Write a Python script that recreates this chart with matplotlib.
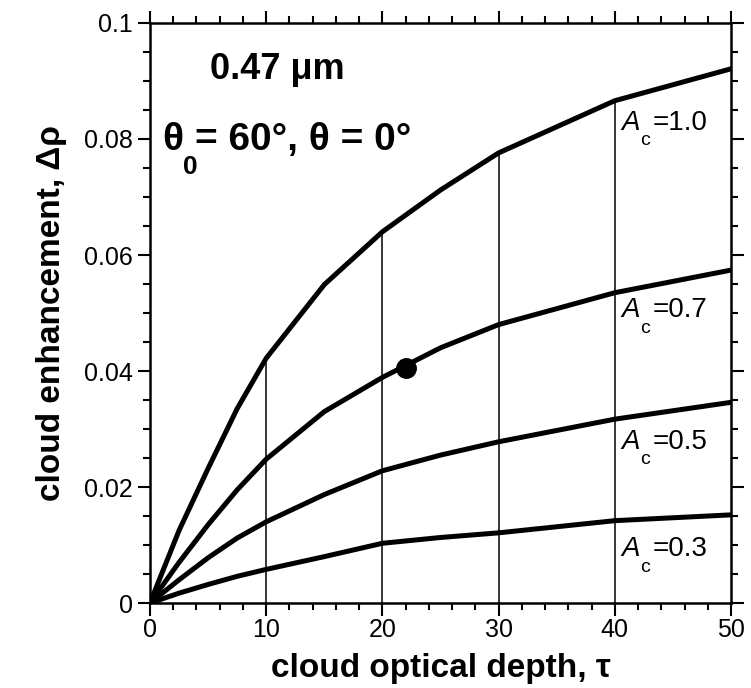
import matplotlib
matplotlib.use("Agg")
import matplotlib.pyplot as plt
import numpy as np

plt.rcParams['font.family'] = ['Liberation Sans', 'DejaVu Sans']

# optical depth sample points
tau = [0, 2.5, 5, 7.5, 10, 15, 20, 25, 30, 40, 50]

# cloud enhancement for each cloud fraction
enh_10 = [0, 0.0125, 0.0232, 0.0335, 0.0422, 0.0549, 0.0640, 0.0712, 0.0776, 0.0866, 0.0921]
enh_07 = [0, 0.0070, 0.0135, 0.0195, 0.0248, 0.0330, 0.0389, 0.0440, 0.0480, 0.0535, 0.0574]
enh_05 = [0, 0.0040, 0.0078, 0.0112, 0.0140, 0.0187, 0.0228, 0.0255, 0.0278, 0.0317, 0.0346]
enh_03 = [0, 0.0017, 0.0032, 0.0046, 0.0058, 0.0080, 0.0103, 0.0113, 0.0121, 0.0142, 0.0152]

curve_labels = ['=1.0', '=0.7', '=0.5', '=0.3']
label_y = [0.0828, 0.0505, 0.0278, 0.0093]
label_tau = 40.6

# verticals drawn up to the Ac=1.0 curve
vline_tau = [10, 20, 30, 40]

# the marked point
dot_tau = 22
dot_val = 0.0405

xticks = [0, 10, 20, 30, 40, 50]
yticks = [0, 0.02, 0.04, 0.06, 0.08, 0.1]
ytick_labels = ['0', '0.02', '0.04', '0.06', '0.08', '0.1']

fig = plt.figure(figsize=(7.51, 6.88), dpi=100)
ax = fig.add_axes([0.1997, 0.1235, 0.7737, 0.8431])

vtop = np.interp(vline_tau, tau, enh_10)
ax.vlines(vline_tau, 0, vtop, color='black', lw=1.1)

for vals in [enh_10, enh_07, enh_05, enh_03]:
    ax.plot(tau, vals, color='black', lw=3.6, solid_capstyle='round',
            solid_joinstyle='round')

ax.plot([dot_tau], [dot_val], 'o', color='black', ms=14)

# "A_c=..." labels, subscript dropped well below like the original
for lab, y in zip(curve_labels, label_y):
    ax.annotate('A', (label_tau, y), fontsize=20, style='italic',
                va='center', ha='left')
    ax.annotate('c', (label_tau, y), xytext=(13, -13),
                textcoords='offset points', fontsize=14,
                va='center', ha='left')
    ax.annotate(lab, (label_tau, y), xytext=(22, 0),
                textcoords='offset points', fontsize=20,
                va='center', ha='left')

ax.text(0.22, 0.92, '0.47 \u03bcm', transform=ax.transAxes, fontsize=26,
        fontweight='bold', va='center', ha='center')

# theta line built from pieces
tx, ty = 0.0207, 0.798
ax.annotate('\u03b8', (tx, ty), xycoords='axes fraction', fontsize=28,
            fontweight='bold', va='center', ha='left')
ax.annotate('0', (tx, ty), xycoords='axes fraction', xytext=(15, -19),
            textcoords='offset points', fontsize=19, fontweight='bold',
            va='center', ha='left')
ax.annotate('= 60\u00b0, \u03b8 = 0\u00b0', (tx, ty),
            xycoords='axes fraction', xytext=(24, 0),
            textcoords='offset points', fontsize=28, fontweight='bold',
            va='center', ha='left')

ax.set_xlim(0, 50)
ax.set_ylim(0, 0.1)
ax.set_xticks(xticks)
ax.set_xticklabels([str(t) for t in xticks])
ax.set_yticks(yticks)
ax.set_yticklabels(ytick_labels)
ax.set_xticks(np.arange(0, 51, 2), minor=True)
ax.set_yticks(np.arange(0, 0.1001, 0.005), minor=True)

ax.tick_params(which='both', direction='out', top=True, right=True,
               width=1.5, labelsize=18)
ax.tick_params(which='major', length=9)
ax.tick_params(which='minor', length=5)
ax.tick_params(axis='x', pad=2)
for sp in ax.spines.values():
    sp.set_linewidth(1.8)

ax.set_xlabel('cloud optical depth, \u03c4', fontsize=24, fontweight='bold',
              labelpad=8)
ax.set_ylabel('cloud enhancement, \u0394\u03c1', fontsize=24,
              fontweight='bold', labelpad=12)

fig.savefig('out.png', dpi=100)
